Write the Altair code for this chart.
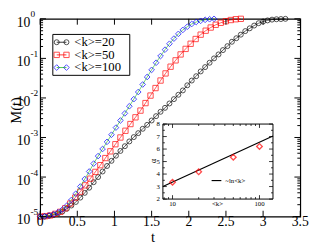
import altair as alt
import pandas as pd

# ---------------- data ----------------
series_names = ["<k>=20", "<k>=50", "<k>=100"]

t_k20 = [0.00, 0.06, 0.12, 0.18, 0.24, 0.30, 0.36, 0.42, 0.48, 0.54, 0.60, 0.66, 0.72, 0.78,
         0.84, 0.90, 0.96, 1.02, 1.08, 1.14, 1.20, 1.26, 1.32, 1.38, 1.44, 1.50, 1.56, 1.62,
         1.68, 1.74, 1.80, 1.86, 1.92, 1.98, 2.04, 2.10, 2.16, 2.22, 2.28, 2.34, 2.40, 2.46,
         2.52, 2.58, 2.64, 2.70, 2.76, 2.82, 2.88, 2.94, 3.00, 3.06, 3.12, 3.18, 3.24, 3.30]
log10M_k20 = [-5.00, -5.00, -4.98, -4.96, -4.92, -4.87, -4.80, -4.72, -4.63, -4.52, -4.40, -4.27,
              -4.13, -4.00, -3.86, -3.72, -3.59, -3.46, -3.34, -3.22, -3.10, -2.99, -2.89, -2.78,
              -2.68, -2.57, -2.46, -2.35, -2.25, -2.14, -2.03, -1.92, -1.81, -1.68, -1.56, -1.45,
              -1.33, -1.22, -1.11, -1.00, -0.90, -0.79, -0.69, -0.58, -0.49, -0.40, -0.31, -0.24,
              -0.17, -0.11, -0.07, -0.04, -0.02, -0.01, -0.005, 0.00]

t_k50 = [0.0, 0.0675, 0.135, 0.2025, 0.27, 0.3375, 0.405, 0.4725, 0.54, 0.6075, 0.675, 0.7425,
         0.81, 0.8775, 0.945, 1.0125, 1.08, 1.1475, 1.215, 1.2825, 1.35, 1.4175, 1.485, 1.5525,
         1.62, 1.6875, 1.755, 1.8225, 1.89, 1.9575, 2.025, 2.0925, 2.16, 2.2275, 2.295, 2.3625,
         2.43, 2.4975, 2.565, 2.6325, 2.70]
log10M_k50 = [-5.00, -4.99, -4.97, -4.93, -4.88, -4.79, -4.67, -4.52, -4.37, -4.21, -4.04, -3.87,
              -3.70, -3.52, -3.35, -3.17, -3.00, -2.83, -2.66, -2.49, -2.32, -2.13, -1.94, -1.75,
              -1.56, -1.38, -1.21, -1.05, -0.90, -0.76, -0.63, -0.51, -0.40, -0.30, -0.22, -0.15,
              -0.10, -0.06, -0.03, -0.01, 0.00]

t_k100 = [0.00, 0.06, 0.12, 0.18, 0.24, 0.30, 0.36, 0.42, 0.48, 0.54, 0.60, 0.66, 0.72, 0.78,
          0.84, 0.90, 0.96, 1.02, 1.08, 1.14, 1.20, 1.26, 1.32, 1.38, 1.44, 1.50, 1.56, 1.62,
          1.68, 1.74, 1.80, 1.86, 1.92, 1.98, 2.04, 2.10, 2.16, 2.22, 2.28, 2.34]
log10M_k100 = [-5.00, -4.99, -4.97, -4.94, -4.89, -4.82, -4.72, -4.58, -4.42, -4.24, -4.05, -3.86,
               -3.66, -3.47, -3.29, -3.11, -2.93, -2.75, -2.57, -2.39, -2.21, -2.03, -1.85, -1.66,
               -1.47, -1.29, -1.11, -0.94, -0.78, -0.63, -0.50, -0.38, -0.28, -0.20, -0.13, -0.08,
               -0.05, -0.025, -0.01, 0.00]

# inset
inset_k = [10, 20, 50, 100]
inset_alpha = [3.35, 4.18, 5.35, 6.21]
fit_k = [7.75, 143]
fit_alpha = [3.0, 7.04]
fit_label = "~ln<k>"

# axes
x_ticks = [0, 0.5, 1, 1.5, 2, 2.5, 3, 3.5]
x_tick_labels = ["0", "0.5", "1", "1.5", "2", "2.5", "3", "3.5"]
y_decades = [1e-5, 1e-4, 1e-3, 1e-2, 1e-1, 1]
y_exponents = ["-5", "-4", "-3", "-2", "-1", "0"]
y_minor = [m * 10.0 ** e for e in range(-5, 0) for m in range(2, 10)]
inset_x_major = [10, 100]
inset_x_labels = ["10", "100"]
inset_x_minor = [8, 9, 20, 30, 40, 50, 60, 70, 80, 90]
inset_y_major = [2, 3, 4, 5, 6, 7, 8]
inset_y_minor = [2.5, 3.5, 4.5, 5.5, 6.5, 7.5]

# ---------------- layout ----------------
W, H = 267, 203
FONT = "Liberation Serif"
IX0, IX1, IYB, IYT = 126, 239, 185, 108   # inset box in plot pixels
xs = alt.Scale(domain=[0, 3.5], nice=False, zero=False)
ys = alt.Scale(type="log", domain=[1e-5, 1], nice=False)
ixs = alt.Scale(type="log", domain=[fit_k[0], fit_k[1]], range=[IX0, IX1], nice=False)
iys = alt.Scale(domain=[2, 8], range=[IYB, IYT], nice=False, zero=False)

one = pd.DataFrame({"a": [0]})

styles = [
    dict(shape="circle", color="#000000", line="#000000", size=26),
    dict(shape="square", color="#ff0000", line="#ff0000", size=30),
    dict(shape="diamond", color="#0000ff", line="#22bb22", size=34),
]
ts = [t_k20, t_k50, t_k100]
ls = [log10M_k20, log10M_k50, log10M_k100]

main_layers = []
for name, t, lv, st in zip(series_names, ts, ls, styles):
    df = pd.DataFrame({"t": t, "M": [10.0 ** v for v in lv]})
    base = alt.Chart(df).encode(
        x=alt.X("t:Q", scale=xs, axis=None),
        y=alt.Y("M:Q", scale=ys, axis=None),
    )
    main_layers.append(base.mark_line(color=st["line"], strokeWidth=0.8, opacity=0.8))
    main_layers.append(base.mark_point(shape=st["shape"], color=st["color"], size=st["size"],
                                       strokeWidth=1, filled=False))

# ticks (inward)
def yticks(vals, length):
    d = pd.DataFrame({"v": vals})
    out = []
    for x0, x1 in [(0, length), (W, W - length)]:
        out.append(alt.Chart(d).mark_rule(color="black", strokeWidth=1).encode(
            y=alt.Y("v:Q", scale=ys, axis=None), x=alt.value(x0), x2=alt.value(x1)))
    return out

def xticks(vals, length):
    d = pd.DataFrame({"v": vals})
    out = []
    for y0, y1 in [(H, H - length), (0, length)]:
        out.append(alt.Chart(d).mark_rule(color="black", strokeWidth=1).encode(
            x=alt.X("v:Q", scale=xs, axis=None), y=alt.value(y0), y2=alt.value(y1)))
    return out

main_layers += yticks(y_decades, 6) + yticks(y_minor, 3) + xticks(x_ticks, 6)

# tick labels
main_layers.append(alt.Chart(pd.DataFrame({"v": x_ticks, "s": x_tick_labels})).mark_text(
    font=FONT, fontSize=14, align="center", baseline="middle").encode(
    x=alt.X("v:Q", scale=xs, axis=None), y=alt.value(209), text="s:N"))
ydf = pd.DataFrame({"v": y_decades, "e": y_exponents, "b": ["10"] * len(y_decades)})
main_layers.append(alt.Chart(ydf).mark_text(
    font=FONT, fontSize=14, align="right", baseline="middle", dy=4).encode(
    y=alt.Y("v:Q", scale=ys, axis=None), x=alt.value(-10), text="b:N"))
main_layers.append(alt.Chart(ydf).mark_text(
    font=FONT, fontSize=9.5, align="left", baseline="middle", dy=-4.5).encode(
    y=alt.Y("v:Q", scale=ys, axis=None), x=alt.value(-10), text="e:N"))

# axis titles
main_layers.append(alt.Chart(one).mark_text(font=FONT, fontSize=15, text="t",
                                            baseline="middle").encode(
    x=alt.value(116), y=alt.value(224)))
main_layers.append(alt.Chart(one).mark_text(font=FONT, fontSize=15, text="M(t)", angle=270,
                                            baseline="middle").encode(
    x=alt.value(-25), y=alt.value(94)))

# legend
main_layers.append(alt.Chart(one).mark_rect(fill="white", stroke="black", strokeWidth=1).encode(
    x=alt.value(13), x2=alt.value(92), y=alt.value(16), y2=alt.value(58)))
rows = [24, 37, 50]
for name, st, ry in zip(series_names, styles, rows):
    main_layers.append(alt.Chart(one).mark_rule(color=st["line"], strokeWidth=0.8).encode(
        x=alt.value(17), x2=alt.value(27), y=alt.value(ry)))
    for px in (17, 27):
        main_layers.append(alt.Chart(one).mark_point(
            shape=st["shape"], color=st["color"], size=st["size"], strokeWidth=1,
            filled=False).encode(x=alt.value(px), y=alt.value(ry)))
    main_layers.append(alt.Chart(one).mark_text(
        font=FONT, fontSize=13, align="left", baseline="middle", text=name).encode(
        x=alt.value(35), y=alt.value(ry)))

main = alt.layer(*main_layers)

# ---------------- inset ----------------
inset_layers = []
box = pd.DataFrame({"x0": [fit_k[0]], "x1": [fit_k[1]], "y0": [2], "y1": [8]})
inset_layers.append(alt.Chart(box).mark_rect(fill="white", stroke="black", strokeWidth=1).encode(
    x=alt.X("x0:Q", scale=ixs, axis=None), x2="x1:Q",
    y=alt.Y("y0:Q", scale=iys, axis=None), y2="y1:Q"))

def ixt(vals, length):
    d = pd.DataFrame({"v": vals})
    return [alt.Chart(d).mark_rule(color="black", strokeWidth=0.8).encode(
        x=alt.X("v:Q", scale=ixs, axis=None), y=alt.value(a), y2=alt.value(b))
        for a, b in [(IYB, IYB - length), (IYT, IYT + length)]]

def iyt(vals, length):
    d = pd.DataFrame({"v": vals})
    return [alt.Chart(d).mark_rule(color="black", strokeWidth=0.8).encode(
        y=alt.Y("v:Q", scale=iys, axis=None), x=alt.value(a), x2=alt.value(b))
        for a, b in [(IX0, IX0 + length), (IX1, IX1 - length)]]

inset_layers += ixt(inset_x_major, 4) + ixt(inset_x_minor, 2) + iyt(inset_y_major, 4) + iyt(inset_y_minor, 2)

inset_layers.append(alt.Chart(pd.DataFrame({"k": fit_k, "a": fit_alpha})).mark_line(
    color="black", strokeWidth=1.2).encode(
    x=alt.X("k:Q", scale=ixs, axis=None), y=alt.Y("a:Q", scale=iys, axis=None)))
inset_layers.append(alt.Chart(pd.DataFrame({"k": inset_k, "a": inset_alpha})).mark_point(
    shape="diamond", color="#ff0000", size=34, strokeWidth=1.3, filled=False).encode(
    x=alt.X("k:Q", scale=ixs, axis=None), y=alt.Y("a:Q", scale=iys, axis=None)))

inset_layers.append(alt.Chart(pd.DataFrame({"v": inset_y_major, "s": [str(v) for v in inset_y_major]})).mark_text(
    font=FONT, fontSize=7, align="right", baseline="middle").encode(
    y=alt.Y("v:Q", scale=iys, axis=None), x=alt.value(IX0 - 3), text="s:N"))
inset_layers.append(alt.Chart(pd.DataFrame({"v": inset_x_major, "s": inset_x_labels})).mark_text(
    font=FONT, fontSize=7, align="center", baseline="middle").encode(
    x=alt.X("v:Q", scale=ixs, axis=None), y=alt.value(IYB + 5), text="s:N"))
inset_layers.append(alt.Chart(one).mark_text(font=FONT, fontSize=7, text="<k>",
                                             baseline="middle").encode(
    x=alt.value(182), y=alt.value(IYB + 5)))
inset_layers.append(alt.Chart(one).mark_text(font=FONT, fontSize=8, text="α", angle=270,
                                             baseline="middle").encode(
    x=alt.value(117), y=alt.value(146)))
inset_layers.append(alt.Chart(one).mark_rule(color="black", strokeWidth=1.2).encode(
    x=alt.value(176), x2=alt.value(186), y=alt.value(166)))
inset_layers.append(alt.Chart(one).mark_text(font=FONT, fontSize=7, text=fit_label, align="left",
                                             baseline="middle").encode(
    x=alt.value(190), y=alt.value(166)))

inset = alt.layer(*inset_layers)

chart = alt.layer(main, inset).resolve_scale(x="independent", y="independent").properties(
    width=W, height=H,
    padding={"left": 33, "top": 8, "right": 10, "bottom": 25},
    autosize=alt.AutoSizeParams(type="none"),
).configure_view(stroke="black", strokeWidth=1.2)

chart.save("out.html", embed_options={"renderer": "svg", "actions": False})
